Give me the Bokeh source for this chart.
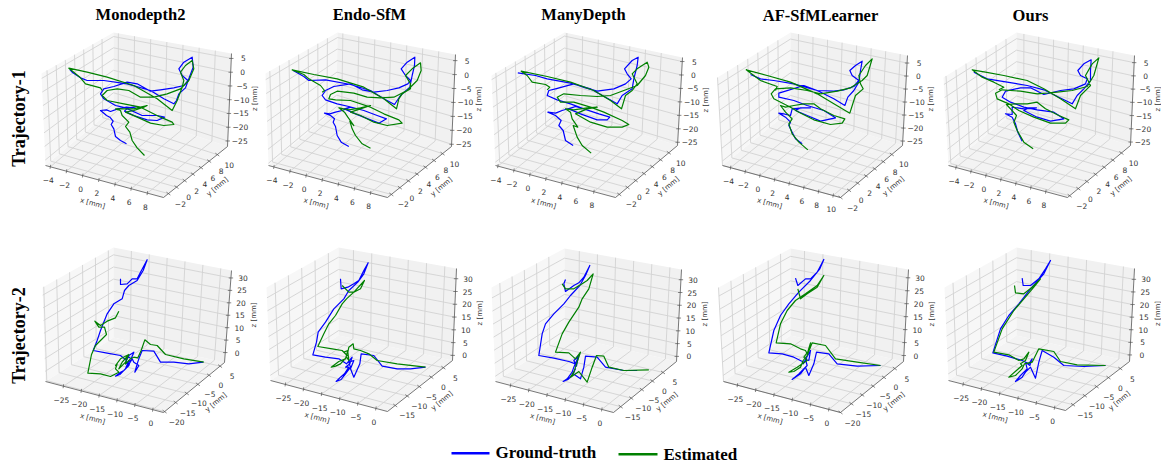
import numpy as np
from bokeh.plotting import figure
from bokeh.models import Range1d
from bokeh.core.properties import value
from bokeh.embed import file_html
from bokeh.resources import INLINE

METHODS = ["Monodepth2", "Endo-SfM", "ManyDepth", "AF-SfMLearner", "Ours"]
ROWS = ["Trajectory-1", "Trajectory-2"]
LEGEND = ["Ground-truth", "Estimated"]

T1_XTICKS = [-4, -2, 0, 2, 4, 6, 8]
T1_XTICKS_AF = [-4, -2, 0, 2, 4, 6, 8, 10]
T1_YTICKS = [-2, 0, 2, 4, 6, 8, 10]
T1_ZTICKS = [-25, -20, -15, -10, -5, 0, 5]
T2_XTICKS = [-25, -20, -15, -10, -5, 0]
T2_YTICKS_20 = [-20, -15, -10, -5, 0, 5]
T2_YTICKS_15 = [-15, -10, -5, 0, 5]
T2_ZTICKS = [0, 5, 10, 15, 20, 25, 30]

# Trajectories: (horizontal, vertical) in 1/3 px from each crop origin
T1_MONO_GT = [(378,430),(360,420),(345,408),(340,385),(332,372),(338,362),(328,350),(318,345),(312,340),(300,330),(318,328),(330,333),(352,325),(378,320),(395,322),(410,318),(382,322),(372,332),(400,345),(440,358),(470,360),(492,350),(470,345),(425,345),(375,322),(345,315),(310,295),(300,280),(310,265),(340,258),(380,245),(410,250),(450,272),(480,268),(520,262),(550,255),(562,240),(545,225),(535,205),(550,185),(575,170),(578,200),(565,235),(555,262),(535,280),(528,300),(520,310),(490,295),(450,270),(380,250),(310,240),(260,240),(240,232),(215,215),(208,207)]
T1_MONO_ES = [(432,465),(410,442),(395,420),(388,395),(375,378),(385,365),(365,345),(360,330),(345,325),(365,325),(400,325),(420,320),(440,315),(430,320),(400,330),(375,335),(410,350),(450,368),(490,375),(520,372),(515,365),(480,350),(420,320),(370,310),(320,300),(305,285),(320,270),(350,265),(385,270),(420,290),(460,290),(500,280),(540,265),(565,240),(580,205),(575,180),(555,195),(540,215),(550,240),(545,260),(530,300),(515,330),(470,295),(400,255),(320,230),(260,215),(205,203),(240,232),(255,250),(300,262),(305,270)]
T1_ENDO_GT = [(235,438),(212,425),(200,405),(195,378),(188,365),(192,355),(180,345),(162,338),(178,340),(195,335),(215,330),(240,320),(260,325),(240,320),(222,325),(255,340),(300,358),(325,368),(348,355),(320,345),(280,330),(235,318),(200,310),(165,298),(155,285),(165,270),(190,258),(240,250),(275,268),(310,275),(350,270),(385,262),(412,250),(420,240),(405,225),(392,205),(410,185),(433,170),(432,195),(425,225),(418,260),(390,285),(380,300),(372,312),(340,295),(300,270),(240,252),(165,238),(115,240),(100,228),(68,210)]
T1_ENDO_ES = [(300,443),(275,430),(255,405),(245,385),(238,362),(250,375),(232,350),(222,335),(205,322),(235,328),(270,322),(300,315),(270,325),(240,335),(270,345),(310,365),(350,375),(395,368),(385,358),(340,340),(300,320),(240,300),(195,298),(175,295),(180,282),(200,272),(250,278),(290,290),(330,292),(370,290),(410,270),(440,240),(452,210),(450,187),(425,205),(405,225),(420,250),(420,265),(395,280),(385,295),(378,325),(340,295),(280,260),(200,235),(130,222),(65,208),(100,222),(115,235),(150,255),(162,270),(155,275)]
T1_MANY_GT = [(248,435),(225,420),(218,390),(205,375),(212,360),(195,345),(172,335),(195,338),(215,330),(255,318),(280,325),(255,318),(235,325),(270,340),(320,358),(350,358),(358,350),(325,340),(280,325),(240,310),(200,298),(170,285),(175,270),(195,265),(250,250),(285,262),(320,272),(370,265),(405,250),(422,235),(410,220),(402,205),(425,180),(443,170),(440,195),(430,235),(425,265),(395,285),(380,310),(345,290),(300,265),(240,248),(170,235),(135,225),(82,217)]
T1_MANY_ES = [(302,458),(275,435),(260,410),(248,375),(262,380),(245,355),(240,335),(225,325),(250,328),(290,322),(320,320),(290,325),(255,340),(300,365),(350,380),(395,380),(415,372),(395,360),(340,335),(300,320),(250,305),(210,305),(200,290),(220,280),(270,285),(320,288),(360,285),(400,270),(440,255),(465,225),(475,200),(470,185),(440,205),(425,220),(440,250),(425,270),(405,285),(393,325),(360,300),(310,270),(240,245),(170,228),(92,212),(110,225),(125,245),(165,252),(178,260),(170,268)]
T1_AF_GT = [(275,430),(255,415),(245,395),(235,375),(240,365),(225,350),(205,338),(220,340),(240,345),(245,325),(275,322),(300,322),(270,322),(255,330),(290,345),(330,362),(375,352),(340,330),(290,315),(250,300),(205,290),(205,278),(225,272),(280,255),(320,270),(370,272),(400,268),(430,258),(445,240),(425,225),(418,210),(435,195),(455,182),(450,210),(445,245),(430,270),(412,290),(403,315),(370,295),(320,270),(250,250),(190,240),(150,235),(120,222)]
T1_AF_ES = [(292,448),(265,425),(245,400),(235,370),(245,355),(225,335),(210,315),(225,320),(250,315),(280,310),(310,310),(330,325),(370,345),(403,355),(395,368),(360,372),(310,358),(265,335),(240,320),(190,295),(182,280),(195,265),(240,262),(290,270),(330,280),(380,272),(420,262),(455,240),(470,225),(485,175),(465,195),(445,225),(450,250),(458,265),(435,285),(430,300),(418,338),(370,310),(320,280),(240,245),(170,225),(107,208),(130,225),(150,240),(200,258),(195,270)]
T1_OURS_GT = [(275,422),(262,395),(255,370),(245,350),(225,340),(245,342),(245,320),(280,325),(318,322),(295,322),(280,330),(320,350),(360,362),(400,355),(370,335),(320,328),(280,320),(240,305),(215,290),(225,272),(270,262),(300,262),(340,282),(390,270),(430,265),(465,250),(470,235),(450,225),(442,210),(460,190),(482,178),(480,210),(480,240),(460,265),(440,285),(425,310),(385,290),(340,268),(290,255),(230,245),(170,235),(130,215)]
T1_OURS_ES = [(308,445),(280,425),(260,390),(250,365),(258,345),(240,325),(228,312),(255,310),(290,310),(320,305),(345,325),(385,345),(415,358),(405,368),(360,368),(310,350),(265,330),(235,310),(200,295),(195,278),(215,268),(270,272),(320,280),(380,275),(425,270),(470,258),(490,225),(505,172),(485,190),(465,225),(480,255),(470,265),(450,285),(435,325),(390,295),(340,265),(290,240),(220,225),(165,215),(125,208),(155,230),(190,245),(220,260),(205,268)]
T2_MONO_GT = [(360,145),(360,162),(380,160),(395,145),(410,145),(420,125),(440,88),(428,120),(410,150),(385,165),(372,180),(365,205),(340,220),(320,250),(300,300),(290,330),(278,360),(320,368),(360,375),(378,390),(385,375),(400,365),(392,385),(382,378),(375,400),(390,390),(385,405),(370,420),(360,425),(345,437),(358,432),(375,415),(385,390),(380,410),(395,385),(400,395),(415,405),(403,425),(410,400),(415,385),(425,360),(460,362),(480,395),(520,395),(565,400),(608,395)]
T2_MONO_ES = [(355,242),(345,262),(320,272),(300,285),(283,272),(295,290),(312,290),(318,312),(300,330),(285,345),(273,372),(262,428),(300,430),(330,438),(355,425),(345,415),(350,400),(345,405),(360,385),(385,372),(375,395),(355,415),(365,395),(380,378),(375,400),(390,385),(400,380),(412,382),(422,360),(433,328),(450,342),(470,345),(495,372),(550,385),(610,395)]
T2_ENDO_GT = [(210,130),(212,160),(232,155),(250,145),(265,135),(280,105),(293,82),(280,115),(262,140),(235,165),(220,190),(190,220),(165,260),(143,290),(138,320),(127,358),(165,365),(205,370),(228,385),(245,365),(238,385),(225,395),(235,395),(222,415),(210,425),(197,438),(212,432),(225,415),(240,395),(235,380),(250,375),(240,400),(250,425),(268,385),(272,355),(310,360),(335,392),(380,400),(420,400),(465,395)]
T2_ENDO_ES = [(215,150),(235,170),(250,170),(282,135),(270,160),(250,170),(228,190),(215,205),(195,240),(175,265),(160,295),(142,333),(185,340),(215,345),(230,360),(220,350),(232,345),(225,370),(205,378),(182,395),(195,392),(210,385),(228,365),(235,375),(232,350),(235,335),(248,325),(250,340),(270,345),(295,355),(320,375),(380,385),(465,395)]
T2_MANY_GT = [(225,132),(220,145),(225,168),(250,150),(265,142),(280,125),(298,90),(285,120),(268,150),(240,180),(220,205),(190,235),(165,265),(155,295),(145,360),(190,368),(235,378),(255,385),(262,370),(258,392),(250,375),(265,360),(250,395),(245,410),(230,430),(218,438),(232,432),(245,420),(255,400),(248,415),(270,430),(280,395),(285,362),(320,365),(345,395),(400,405),(440,405)]
T2_MANY_ES = [(215,145),(225,160),(250,160),(275,145),(290,135),(308,115),(295,160),(275,190),(265,215),(235,260),(215,295),(195,350),(235,352),(255,370),(270,350),(260,380),(250,410),(240,425),(265,408),(290,440),(305,395),(318,360),(340,362),(355,395),(400,405),(475,403)]
T2_AF_GT = [(255,128),(262,150),(285,130),(300,130),(320,110),(340,72),(328,100),(300,135),(265,170),(235,205),(210,240),(190,285),(175,352),(215,355),(250,365),(280,380),(288,370),(278,385),(300,345),(295,375),(285,372),(290,390),(265,415),(245,432),(270,415),(285,395),(295,420),(310,385),(318,350),(355,355),(380,385),(440,392),(510,390)]
T2_AF_ES = [(262,160),(270,190),(290,175),(320,155),(340,120),(320,150),(285,175),(255,195),(230,225),(210,265),(197,322),(240,325),(270,340),(285,345),(290,355),(300,322),(295,345),(280,365),(290,375),(260,395),(235,410),(250,408),(270,395),(278,375),(290,360),(305,322),(345,330),(375,370),(440,380),(510,390)]
T2_OURS_GT = [(275,128),(278,150),(300,150),(325,130),(345,100),(360,75),(340,115),(300,160),(265,205),(235,240),(210,280),(187,352),(230,362),(275,375),(295,385),(305,370),(298,390),(285,380),(290,400),(270,420),(255,438),(275,425),(285,410),(300,395),(315,428),(325,380),(335,345),(370,365),(400,390),(460,393),(525,390)]
T2_OURS_ES = [(252,150),(255,172),(280,175),(305,155),(330,130),(310,155),(280,190),(250,225),(215,280),(190,350),(235,358),(265,375),(280,370),(295,350),(285,375),(270,385),(275,390),(235,425),(255,420),(275,400),(282,385),(305,380),(325,340),(370,348),(390,378),(440,388),(525,390)]

# Layout: corners A B C D E F G of each 3D box, limits, ticks, crop origin
PANELS = [
 dict(c=[(45,165),(163,197),(227,146),(113,108),(41,73),(113,32),(231,53)], xl=(-4.6,10), yl=(-3.2,12.5), zl=(-27,6.8), xt=T1_XTICKS, yt=T1_YTICKS, zt=T1_ZTICKS, o=(0,0), gt=T1_MONO_GT, es=T1_MONO_ES),
 dict(c=[(268,165),(387,197),(451,146),(336,108),(265,73),(337,32),(455,54)], xl=(-4.67,10.1), yl=(-2.9,12.1), zl=(-25.8,7.2), xt=T1_XTICKS, yt=T1_YTICKS, zt=T1_ZTICKS, o=(270,0), gt=T1_ENDO_GT, es=T1_ENDO_ES),
 dict(c=[(495,165),(615,197),(677,145),(564,110),(491,75),(564,32),(682,57)], xl=(-4.3,10.7), yl=(-2.9,12.1), zl=(-26.2,6.5), xt=T1_XTICKS, yt=T1_YTICKS, zt=T1_ZTICKS, o=(490,0), gt=T1_MANY_GT, es=T1_MANY_ES),
 dict(c=[(722,165),(840,197),(902,145),(790,110),(717,77),(790,32),(907,55)], xl=(-5.1,11), yl=(-2,12.5), zl=(-26.7,7.9), xt=T1_XTICKS_AF, yt=T1_YTICKS, zt=T1_ZTICKS, o=(710,0), gt=T1_AF_GT, es=T1_AF_ES),
 dict(c=[(948,165),(1067,197),(1130,145),(1016,110),(943,77),(1016,32),(1134,55)], xl=(-5,10.9), yl=(-2.5,12.1), zl=(-26.3,7.7), xt=T1_XTICKS, yt=T1_YTICKS, zt=T1_ZTICKS, o=(930,0), gt=T1_OURS_GT, es=T1_OURS_ES),
 dict(c=[(45,381),(163,412),(224,362),(113,337),(42,287),(113,247),(231,270)], xl=(-30,3), yl=(-20.5,7), zl=(-4,33), xt=T2_XTICKS, yt=T2_YTICKS_20, zt=T2_ZTICKS, o=(0,230), gt=T2_MONO_GT, es=T2_MONO_ES),
 dict(c=[(270,380),(387,411),(452,360),(338,335),(266,287),(338,247),(456,268)], xl=(-29.1,3.2), yl=(-18.2,8.8), zl=(-2,34), xt=T2_XTICKS, yt=T2_YTICKS_15, zt=T2_ZTICKS, o=(270,235), gt=T2_ENDO_GT, es=T2_ENDO_ES),
 dict(c=[(495,381),(613,412),(676,361),(564,335),(491,287),(564,248),(681,269)], xl=(-29.1,3.2), yl=(-18.4,11.4), zl=(-2,34), xt=T2_XTICKS, yt=T2_YTICKS_15, zt=T2_ZTICKS, o=(490,235), gt=T2_MANY_GT, es=T2_MANY_ES),
 dict(c=[(723,381),(840,412),(903,361),(790,335),(718,287),(790,248),(908,269)], xl=(-28.8,3.2), yl=(-20,9), zl=(-2.3,33.2), xt=T2_XTICKS, yt=T2_YTICKS_20, zt=T2_ZTICKS, o=(710,235), gt=T2_AF_GT, es=T2_AF_ES),
 dict(c=[(948,380),(1065,410),(1129,361),(1016,335),(944,287),(1016,247),(1134,268)], xl=(-29,3), yl=(-18.2,8.9), zl=(-2.6,34.3), xt=T2_XTICKS, yt=T2_YTICKS_15, zt=T2_ZTICKS, o=(930,235), gt=T2_OURS_GT, es=T2_OURS_ES),
]

BLUE, GREEN = "#0000ff", "#008000"
TICK_FONT = value("DejaVu Sans")
SERIF = value("Liberation Serif")
W, H = 1161, 466

p = figure(width=W, height=H, output_backend="svg", toolbar_location=None,
           x_range=Range1d(0, W), y_range=Range1d(H, 0), min_border=0)
p.axis.visible = False
p.grid.visible = False
p.outline_line_color = None


def make_proj(P):
    # Trilinear mapping of the data box onto its seven visible corners
    A, B, C, D, E, F, G = [np.array(q, float) for q in P["c"]]
    Hc = B + ((E - A) + (G - C)) / 2
    xl, yl, zl = P["xl"], P["yl"], P["zl"]

    def proj(x, y, z):
        u = (x - xl[0]) / (xl[1] - xl[0])
        v = (y - yl[0]) / (yl[1] - yl[0])
        w = (z - zl[0]) / (zl[1] - zl[0])
        low = (1 - v) * ((1 - u) * A + u * B) + v * ((1 - u) * D + u * C)
        top = (1 - v) * ((1 - u) * E + u * Hc) + v * ((1 - u) * F + u * G)
        return (1 - w) * low + w * top
    return proj


def txt(xs, ys, labels, size, color="#333333", angle=0.0, font=TICK_FONT, style="normal", align="center"):
    p.text(x=xs, y=ys, text=labels, text_font=font, text_font_size=size, text_color=color, angle=angle,
           text_align=align, text_baseline="middle", text_font_style=style)


for P in PANELS:
    pr = make_proj(P)
    xl, yl, zl = P["xl"], P["yl"], P["zl"]
    x0, x1, y0, y1, z0, z1 = xl[0], xl[1], yl[0], yl[1], zl[0], zl[1]

    panes = [
        ([(x0, y0, z0), (x1, y0, z0), (x1, y1, z0), (x0, y1, z0)], "#f3f3f3"),
        ([(x0, y0, z0), (x0, y1, z0), (x0, y1, z1), (x0, y0, z1)], "#f7f7f7"),
        ([(x0, y1, z0), (x1, y1, z0), (x1, y1, z1), (x0, y1, z1)], "#f1f1f1"),
    ]
    for pts, col in panes:
        xy = np.array([pr(*q) for q in pts])
        p.patch(xy[:, 0], xy[:, 1], fill_color=col, line_color=None)

    segs = []
    for t in P["xt"]:
        segs += [[(t, y0, z0), (t, y1, z0)], [(t, y1, z0), (t, y1, z1)]]
    for t in P["yt"]:
        segs += [[(x0, t, z0), (x1, t, z0)], [(x0, t, z0), (x0, t, z1)]]
    for t in P["zt"]:
        segs += [[(x0, y0, t), (x0, y1, t)], [(x0, y1, t), (x1, y1, t)]]
    gx, gy = [], []
    for s in segs:
        xy = np.array([pr(*q) for q in s])
        gx.append(xy[:, 0].tolist()); gy.append(xy[:, 1].tolist())
    p.multi_line(gx, gy, line_color="#d2d2d2", line_width=0.9)

    edges = [[(x0, y0, z0), (x1, y0, z0)], [(x1, y0, z0), (x1, y1, z0)], [(x1, y1, z0), (x1, y1, z1)]]
    ex, ey = [], []
    for s in edges:
        xy = np.array([pr(*q) for q in s])
        ex.append(xy[:, 0].tolist()); ey.append(xy[:, 1].tolist())
    p.multi_line(ex, ey, line_color="#555555", line_width=0.8)

    tx, ty, lx, ly, labs = [], [], [], [], []

    def ticks(points, labels, d_tick, d_label):
        for q, lab in zip(points, labels):
            c = pr(*q)
            tx.append([c[0] - d_tick[0], c[0] + d_tick[0]])
            ty.append([c[1] - d_tick[1], c[1] + d_tick[1]])
            lx.append(c[0] + d_label[0]); ly.append(c[1] + d_label[1])
            labs.append(str(lab).replace("-", "\u2212"))

    ticks([(t, y0, z0) for t in P["xt"]], P["xt"], (-0.3, 2), (-2, 13.5))
    ticks([(x1, t, z0) for t in P["yt"]], P["yt"], (2, 1.5), (12, 10))
    ticks([(x1, y1, t) for t in P["zt"]], P["zt"], (2.2, 0), (12, 0))
    p.multi_line(tx, ty, line_color="#555555", line_width=0.7)
    txt(lx, ly, labs, "7.5px")

    c = np.array(P["c"], float)
    mid = lambda i, j: (c[i] + c[j]) / 2
    mx, my, mz = mid(0, 1), mid(1, 2), mid(2, 6)
    txt([mx[0] - 12], [mx[1] + 22], ["x [mm]"], "7px", angle=-0.26)
    txt([my[0] + 22], [my[1] + 15], ["y [mm]"], "7px", angle=0.7)
    txt([mz[0] + 25.5], [mz[1] - 1.5], ["z [mm]"], "7px", angle=np.pi / 2)

    for series, col in ((P["gt"], BLUE), (P["es"], GREEN)):
        arr = np.array(series, float) / 3 + np.array(P["o"], float)
        p.line(arr[:, 0], arr[:, 1], line_color=col, line_width=1.2, line_join="round")

TITLE_X = [140, 369, 583, 820, 1030]
txt(TITLE_X, [14, 14, 14, 15, 15], METHODS, "16.5px", color="#000000", font=SERIF, style="bold")
txt([18, 18], [118, 335], ROWS, "18px", color="#000000", font=SERIF, style="bold", angle=np.pi / 2)

p.line([451, 489], [452.7, 452.7], line_color=BLUE, line_width=2.6)
p.line([618, 657], [453.7, 453.7], line_color=GREEN, line_width=2.6)
txt([495], [452], [LEGEND[0]], "17px", color="#000000", font=SERIF, style="bold", align="left")
txt([663], [454], [LEGEND[1]], "17px", color="#000000", font=SERIF, style="bold", align="left")

open("out.html", "w").write(file_html(p, INLINE))
